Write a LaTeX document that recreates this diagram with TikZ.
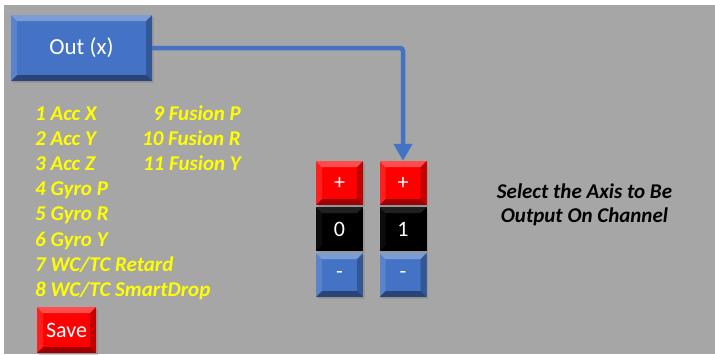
\documentclass[tikz,border=0pt]{standalone}
\usepackage{fontspec}
\setmainfont{Carlito}
\usetikzlibrary{arrows.meta,shadows}
\definecolor{panelgray}{HTML}{A6A6A6}
\definecolor{btnblue}{HTML}{4472C4}
\definecolor{btnred}{HTML}{FF0000}
\definecolor{itemyellow}{HTML}{FFFF00}

\begin{document}
\begin{tikzpicture}[x=1pt, y=-1pt]
	\tikzstyle{every node}=[inner sep=0pt]
	\tikzstyle{item}=[text=itemyellow, font=\fontsize{21}{22}\selectfont\bfseries\itshape]
	\tikzstyle{btn}=[rectangle, minimum width=47pt, minimum height=44pt, text=white,
		font=\fontsize{22}{22}\selectfont,
		drop shadow={shadow xshift=1.5pt, shadow yshift=-2pt, opacity=0.35}]
	\tikzset{bevel/.style={path picture={
		\fill[white, opacity=#1] (path picture bounding box.north west) -- (path picture bounding box.north east)
			-- ([xshift=-6pt,yshift=-6pt]path picture bounding box.north east) -- ([xshift=6pt,yshift=-6pt]path picture bounding box.north west) -- cycle;
		\fill[white, opacity=#1*0.4] (path picture bounding box.north west) -- ([xshift=6pt,yshift=-6pt]path picture bounding box.north west)
			-- ([xshift=6pt,yshift=6pt]path picture bounding box.south west) -- (path picture bounding box.south west) -- cycle;
		\fill[black, opacity=#1*1.3] (path picture bounding box.south west) -- (path picture bounding box.south east)
			-- ([xshift=-6pt,yshift=6pt]path picture bounding box.south east) -- ([xshift=6pt,yshift=6pt]path picture bounding box.south west) -- cycle;
		\fill[black, opacity=#1*0.8] (path picture bounding box.north east) -- (path picture bounding box.south east)
			-- ([xshift=-6pt,yshift=6pt]path picture bounding box.south east) -- ([xshift=-6pt,yshift=-6pt]path picture bounding box.north east) -- cycle;
	}}, bevel/.default=0.3}

	%background
	\useasboundingbox (0,0) rectangle (715,354);
	\fill[white] (0,0) rectangle (715,354);
	\fill[panelgray] (4,5) rectangle (715,354);

	%output box
	\node[btn, fill=btnblue, bevel, minimum width=141pt, minimum height=66pt,
		font=\fontsize{23}{23}\selectfont] (out) at (81.5,48) {Out (x)};

	%axis list
	\foreach \txt [count=\i] in {1 Acc X, 2 Acc Y, 3 Acc Z, 4 Gyro P, 5 Gyro R, 6 Gyro Y, 7 WC/TC Retard, 8 WC/TC SmartDrop}
		\node[item, anchor=base west] (axis\i) at (35,{95.4 + 25.1*\i}) {\txt};
	\foreach \txt [count=\i from 9] in {9 Fusion P, 10 Fusion R, 11 Fusion Y}
		\node[item, anchor=base east] (axis\i) at (241,{120 + 25*(\i - 9)}) {\txt};

	%save
	\node[btn, fill=btnred, bevel, minimum width=59pt, minimum height=46pt,
		font=\fontsize{22}{22}\selectfont] (save) at (66.5,330) {Save};

	%channel buttons
	\foreach \col/\x/\val in {0/339.5/0, 1/403/1} {
		\node[btn, fill=btnred, bevel] (plus\col) at (\x,183) {+};
		\node[btn, fill=black, bevel=0.12] (num\col) at (\x,229) {\val};
		\node[btn, fill=btnblue, bevel] (minus\col) at (\x,275) {-};
	}

	%hint
	\node[font=\fontsize{21}{24.5}\selectfont\bfseries\itshape, align=center] (hint) at (584.5,205)
		{Select the Axis to Be\\Output On Channel};

	%arrow
	\draw[btnblue, line width=4.5pt, rounded corners=3pt, -{Triangle[width=18pt,length=17pt]}]
		(out.east) -| (plus1.north);
\end{tikzpicture}
\end{document}
